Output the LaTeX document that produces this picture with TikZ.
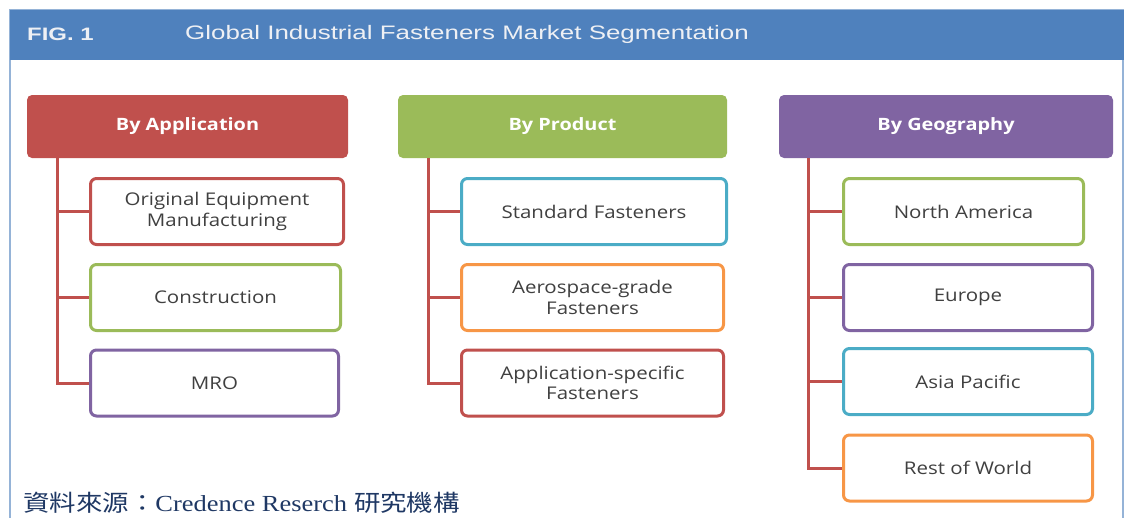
\documentclass[tikz,border=0pt]{standalone}
\usepackage{fontspec}
\usepackage{tikz}
\usetikzlibrary{positioning,calc}
\usepackage{xcolor}

\newfontfamily\headfont[FakeStretch=1.33]{Liberation Sans}
\newfontfamily\boxfont[FakeStretch=1.17]{Open Sans}
\newfontfamily\srcfont[FakeStretch=1.15]{Liberation Serif}
\newfontfamily\cjkfont[FakeStretch=1.15]{Noto Sans CJK TC}

\definecolor{hdrblue}{HTML}{4F81BD}
\definecolor{hdrtext}{HTML}{EEF0F4}
\definecolor{frameblue}{HTML}{95B3D7}
\definecolor{appred}{HTML}{C0504D}
\definecolor{prodgreen}{HTML}{9BBB59}
\definecolor{geopurple}{HTML}{8064A2}
\definecolor{aqua}{HTML}{4BACC6}
\definecolor{orng}{HTML}{F79646}
\definecolor{itemgray}{HTML}{404040}
\definecolor{srcnavy}{HTML}{1F3864}

\begin{document}
\begin{tikzpicture}[
    x=1pt, y=-1pt,
    catbox/.style={fill=#1, rounded corners=5pt, minimum height=63, inner sep=0pt,
      text=white, font=\boxfont\bfseries\fontsize{17}{20}\selectfont},
    itembox/.style={draw=#1, line width=3pt, fill=white, rounded corners=6pt,
      minimum height=66, inner sep=0pt, align=center, text=itemgray,
      font=\boxfont\fontsize{17.5}{20.5}\selectfont},
    link/.style={draw=appred, line width=3pt},
  ]
  \useasboundingbox (0,0) rectangle (1131,517);

  % ========= FRAME + HEADER =========
  \draw[frameblue, line width=2pt] (10,10) rectangle (1123,560);
  \fill[hdrblue] (10,10) rectangle (1124,60);
  \node[anchor=base west, inner sep=0pt, text=hdrtext,
    font=\headfont\bfseries\fontsize{18}{20}\selectfont] (fig) at (27,40) {FIG. 1};
  \node[anchor=base west, inner sep=0pt, text=hdrtext,
    font=\headfont\fontsize{19.5}{22}\selectfont] (title) at (185,39)
    {Global Industrial Fasteners Market Segmentation};

  % ========= BY APPLICATION =========
  \node[catbox=appred, minimum width=321] (app) at (187.5,126.5) {By Application};
  \node[itembox=appred, minimum width=253] (oem) at (217,211.5) {Original Equipment\\Manufacturing};
  \node[itembox=prodgreen, minimum width=250] (constr) at (215.5,297.5) {Construction};
  \node[itembox=geopurple, minimum width=248] (mro) at (214.5,383) {MRO};

  \coordinate (appT) at ([xshift=31]app.south west);
  \draw[link] (appT) |- (mro.west);
  \draw[link] (appT |- oem.west) -- (oem.west);
  \draw[link] (appT |- constr.west) -- (constr.west);

  % ========= BY PRODUCT =========
  \node[catbox=prodgreen, minimum width=329] (prod) at (562.5,126.5) {By Product};
  \node[itembox=aqua, minimum width=265] (std) at (594,211.5) {Standard Fasteners};
  \node[itembox=orng, minimum width=262] (aero) at (592.5,297.5) {Aerospace-grade\\Fasteners};
  \node[itembox=appred, minimum width=262] (appspec) at (592.5,383) {Application-specific\\Fasteners};

  \coordinate (prodT) at ([xshift=31]prod.south west);
  \draw[link] (prodT) |- (appspec.west);
  \draw[link] (prodT |- std.west) -- (std.west);
  \draw[link] (prodT |- aero.west) -- (aero.west);

  % ========= BY GEOGRAPHY =========
  \node[catbox=geopurple, minimum width=334] (geo) at (946,126.5) {By Geography};
  \node[itembox=prodgreen, minimum width=240] (na) at (963.5,211.5) {North America};
  \node[itembox=geopurple, minimum width=249] (eu) at (968,297.5) {Europe};
  \node[itembox=aqua, minimum width=249] (ap) at (968,381.5) {Asia Pacific};
  \node[itembox=orng, minimum width=249] (row) at (968,468) {Rest of World};

  \coordinate (geoT) at ([xshift=30]geo.south west);
  \draw[link] (geoT) |- (row.west);
  \draw[link] (geoT |- na.west) -- (na.west);
  \draw[link] (geoT |- eu.west) -- (eu.west);
  \draw[link] (geoT |- ap.west) -- (ap.west);

  % Source line
  \node[anchor=base west, inner sep=0pt, text=srcnavy, font=\fontsize{23}{26}\selectfont]
    (src) at (23,511) {{\cjkfont 資料來源：}{\srcfont Credence Reserch} {\cjkfont 研究機構}};
\end{tikzpicture}
\end{document}
